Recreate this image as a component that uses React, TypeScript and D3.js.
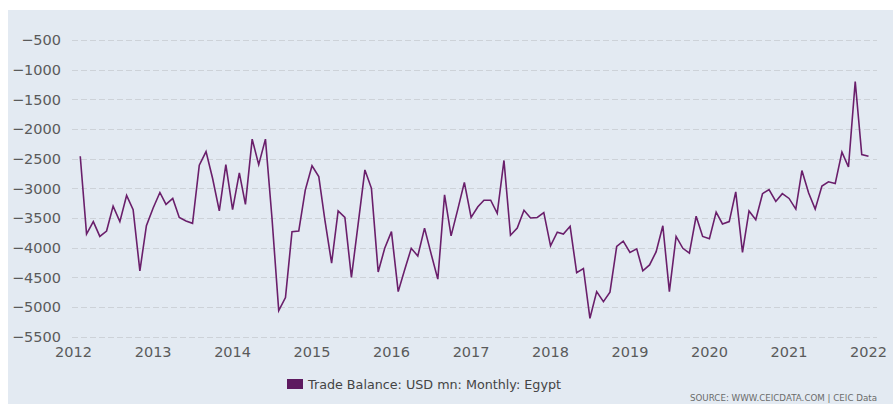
import React, { useEffect, useRef } from "react";
import * as d3 from "d3";

const START_YEAR = 2012;
const START_MONTH = 1; // February (0-based)

const values: number[] = [
  -2460, -3770, -3560, -3810, -3720, -3300, -3560, -3120, -3360, -4390, -3630,
  -3330, -3070, -3270, -3170, -3490, -3550, -3590, -2610, -2380, -2830, -3380,
  -2600, -3360, -2740, -3270, -2170, -2600, -2170, -3500, -5060, -4840, -3730,
  -3720, -3030, -2620, -2800, -3530, -4260, -3380, -3490, -4500, -3600, -2690,
  -3000, -4410, -4010, -3730, -4740, -4380, -4010, -4140, -3670, -4100, -4530,
  -3110, -3800, -3350, -2900, -3490, -3310, -3200, -3200, -3420, -2530, -3790,
  -3670, -3370, -3500, -3490, -3410, -3970, -3740, -3770, -3640, -4420, -4350,
  -5190, -4740, -4910, -4750, -3980, -3890, -4080, -4020, -4390, -4290, -4070,
  -3630, -4740, -3810, -4010, -4090, -3470, -3810, -3850, -3400, -3600, -3560,
  -3060, -4080, -3380, -3530, -3090, -3020, -3220, -3090, -3170, -3350, -2700,
  -3080, -3350, -2960, -2890, -2920, -2390, -2640, -1200, -2430, -2460,
];

const yTicks: number[] = [-500, -1000, -1500, -2000, -2500, -3000, -3500, -4000, -4500, -5000, -5500];
const xTickYears: number[] = [2012, 2013, 2014, 2015, 2016, 2017, 2018, 2019, 2020, 2021, 2022];

const seriesName = "Trade Balance: USD mn: Monthly: Egypt";
const sourceText = "SOURCE: WWW.CEICDATA.COM | CEIC Data";

const W = 893;
const H = 404;
const LINE_COLOR = "#6a1f6b";
const FONT = "'DejaVu Sans', Verdana, sans-serif";

export default function App() {
  const ref = useRef<SVGSVGElement>(null);

  useEffect(() => {
    const svg = d3.select(ref.current);
    svg.selectAll("*").remove();

    const data = values.map((v, i) => ({
      date: new Date(START_YEAR, START_MONTH + i, 1),
      value: v,
    }));

    const x = d3
      .scaleTime()
      .domain([new Date(2012, 0, 1), new Date(2022, 0, 1)])
      .range([73.5, 868.5]);
    const y = d3.scaleLinear().domain([-5500, -500]).range([336.7, 40]);

    svg
      .append("rect")
      .attr("x", 8)
      .attr("y", 10)
      .attr("width", W - 8)
      .attr("height", H - 10)
      .attr("fill", "#e3eaf2");

    // gridlines
    svg
      .append("g")
      .selectAll("line")
      .data(yTicks)
      .join("line")
      .attr("x1", 72)
      .attr("x2", 877)
      .attr("y1", (d) => Math.round(y(d)) + 0.5)
      .attr("y2", (d) => Math.round(y(d)) + 0.5)
      .attr("stroke", "#cdd2d8")
      .attr("stroke-width", 1)
      .attr("stroke-dasharray", "6,3");

    // y labels
    svg
      .append("g")
      .selectAll("text")
      .data(yTicks)
      .join("text")
      .attr("x", 61)
      .attr("y", (d) => y(d))
      .attr("dy", "0.36em")
      .attr("text-anchor", "end")
      .attr("font-family", FONT)
      .attr("font-size", 14.5)
      .attr("fill", "#5a5a5a")
      .text((d) => d3.format("d")(d).replace("-", "–"));

    // x labels
    svg
      .append("g")
      .selectAll("text")
      .data(xTickYears)
      .join("text")
      .attr("x", (d) => x(new Date(d, 0, 1)))
      .attr("y", 357)
      .attr("text-anchor", "middle")
      .attr("font-family", FONT)
      .attr("font-size", 14.5)
      .attr("fill", "#5a5a5a")
      .text((d) => String(d));

    // line
    const line = d3
      .line<{ date: Date; value: number }>()
      .x((d) => x(d.date))
      .y((d) => y(d.value));

    svg
      .append("path")
      .datum(data)
      .attr("d", line)
      .attr("fill", "none")
      .attr("stroke", LINE_COLOR)
      .attr("stroke-width", 1.6)
      .attr("stroke-linejoin", "miter");

    // legend
    svg
      .append("rect")
      .attr("x", 287)
      .attr("y", 379)
      .attr("width", 16)
      .attr("height", 10)
      .attr("fill", "#5e1a60");
    svg
      .append("text")
      .attr("x", 308)
      .attr("y", 388.5)
      .attr("font-family", FONT)
      .attr("font-size", 13)
      .attr("fill", "#444")
      .attr("textLength", 253)
      .attr("lengthAdjust", "spacingAndGlyphs")
      .text(seriesName);

    // source
    svg
      .append("text")
      .attr("x", 690)
      .attr("y", 401)
      .attr("font-family", FONT)
      .attr("font-size", 9)
      .attr("fill", "#6a6a6a")
      .attr("textLength", 187)
      .attr("lengthAdjust", "spacingAndGlyphs")
      .text(sourceText);
  }, []);

  return (
    <svg
      ref={ref}
      width={W}
      height={H}
      style={{ position: "absolute", left: 0, top: 0, background: "#fff" }}
    />
  );
}
